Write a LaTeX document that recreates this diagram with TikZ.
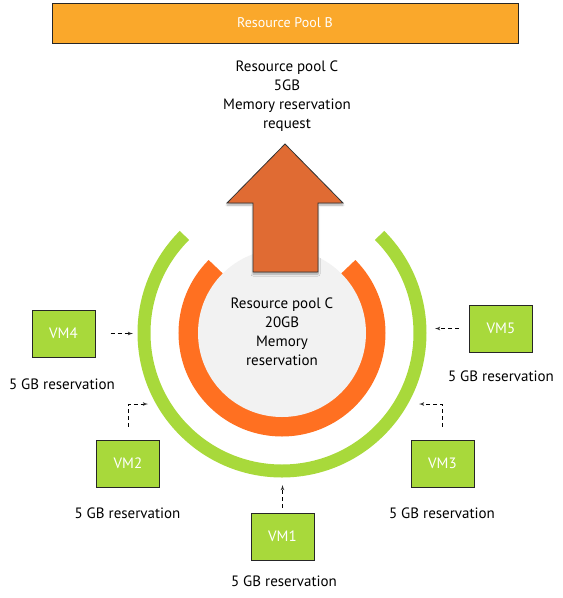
\documentclass[tikz,border=0pt]{standalone}
\usepackage{fontspec}
\setmainfont{PT Sans}
\usepackage{tikz}
\usetikzlibrary{arrows}
\usetikzlibrary{shadows.blur}
\definecolor{mpool}{rgb}{0.98, 0.66, 0.17}
\definecolor{mupward}{rgb}{0.88, 0.42, 0.20}
\definecolor{mring}{rgb}{1.00, 0.44, 0.13}
\definecolor{mgreen}{rgb}{0.66, 0.85, 0.23}
\definecolor{mcore}{rgb}{0.95, 0.95, 0.95}
\tikzset{vmbox/.style = {draw=black!85, line width=1pt, fill=mgreen, text=white,
                         minimum width=63pt, minimum height=47pt, inner sep=0pt}}
\tikzset{vmnote/.style = {inner sep=0pt}}
\tikzset{feed/.style = {dash pattern=on 4pt off 3pt, -latex', line width=0.8pt}}
\begin{document}
\begin{tikzpicture}[x=1pt, y=-1pt, font=\fontsize{15}{19}\selectfont]
    \useasboundingbox (0, 0) rectangle (563, 598);

    \node [draw=black!85, line width=1pt, fill=mpool, text=white, minimum width=466pt, minimum height=40pt, font=\fontsize{14}{19}\selectfont] (poolb) at (285, 23) {Resource Pool B};

    \node [align=center] (request) at (287, 96.5) {Resource pool C\\5GB\\Memory reservation\\request};

    \draw [mgreen, line width=13pt] (282, 333) ++(-45:138) arc [start angle=-45, end angle=225, radius=138];
    \draw [mring, line width=20pt] (282, 333) ++(-45:93.5) arc [start angle=-45, end angle=225, radius=93.5];
    \fill [mcore] (282, 333) circle [radius=84];

    \filldraw [fill=mupward, draw=black!80, line width=0.8pt, blur shadow={shadow xshift=0pt, shadow yshift=-2pt, shadow blur steps=6, shadow opacity=35}]
        (285, 144) -- (343, 203) -- (318, 203) -- (318, 272) -- (253, 272) -- (253, 203) -- (227, 203) -- cycle;

    \node [align=center] (poolc) at (282, 332) {Resource pool C\\20GB\\Memory\\reservation};

    \node [vmbox] (vmfour) at (63.5, 333.5) {VM4};
    \node [vmbox] (vmfive) at (501, 328.5) {VM5};
    \node [vmbox] (vmtwo) at (128, 463.5) {VM2};
    \node [vmbox] (vmthree) at (442.5, 463.5) {VM3};
    \node [vmbox] (vmone) at (282.5, 536.5) {VM1};

    \node [vmnote] (vmfourres) at (62, 384) {5 GB reservation};
    \node [vmnote] (vmfiveres) at (501, 376) {5 GB reservation};
    \node [vmnote] (vmtwores) at (127.5, 513) {5 GB reservation};
    \node [vmnote] (vmthreeres) at (442, 513) {5 GB reservation};
    \node [vmnote] (vmoneres) at (284, 581) {5 GB reservation};

    \coordinate (vmfourin) at (133, 333.5);
    \coordinate (vmfivein) at (435, 328.5);
    \coordinate (vmtwoin) at (148, 404);
    \coordinate (vmthreein) at (419, 404);
    \coordinate (vmonein) at (282.5, 485);

    \draw [feed, shorten <=15pt] (vmfour) -- (vmfourin);
    \draw [feed, shorten <=10pt] (vmfive) -- (vmfivein);
    \draw [feed, shorten <=13pt] (vmtwo.north) |- (vmtwoin);
    \draw [feed, shorten <=13pt] (vmthree.north) |- (vmthreein);
    \draw [feed, shorten <=5pt] (vmone) -- (vmonein);
\end{tikzpicture}
\end{document}
